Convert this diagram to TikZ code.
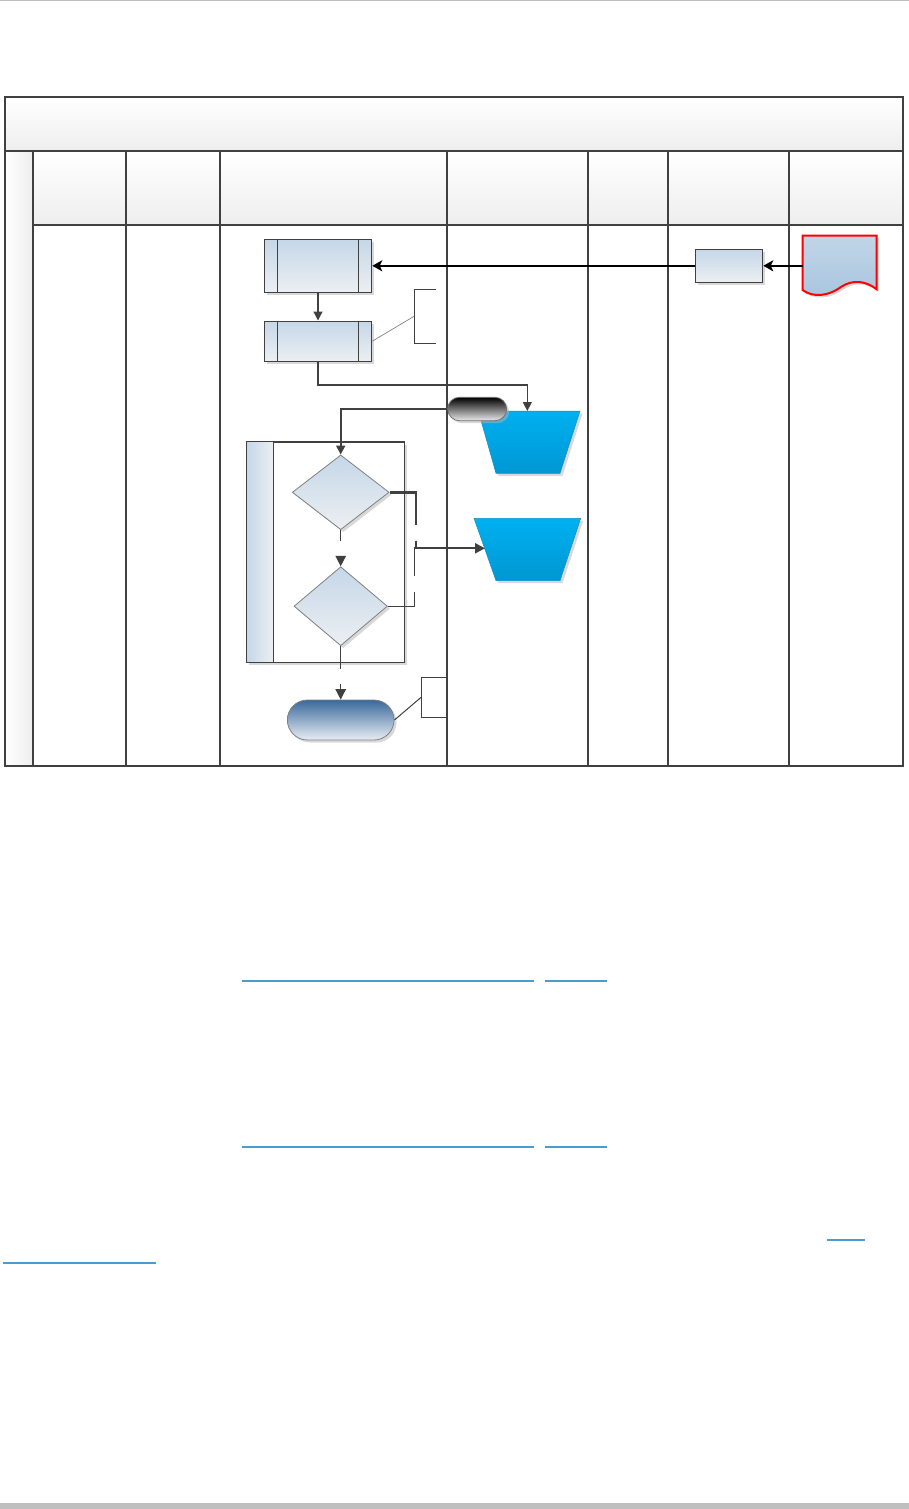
\documentclass[tikz,border=0pt]{standalone}
\usetikzlibrary{shapes.geometric,shapes.misc,arrows.meta,shadows,calc}
\definecolor{gridc}{HTML}{404040}
\definecolor{boxtop}{HTML}{C5D7E8}
\definecolor{boxbot}{HTML}{ECEFF2}
\definecolor{cyantop}{HTML}{00B0F0}
\definecolor{cyanbot}{HTML}{0097D3}
\definecolor{cyanline}{HTML}{1090C8}
\definecolor{linkblue}{HTML}{4A9BD0}
\definecolor{headbot}{HTML}{EEEEEE}
\definecolor{termtop}{HTML}{3A699C}
\definecolor{termbot}{HTML}{E8EDF3}
\definecolor{doctop}{HTML}{C2D5E7}
\definecolor{docbot}{HTML}{A8C5DF}
\definecolor{pagegray}{HTML}{BFBFBF}
\begin{document}
\begin{tikzpicture}[x=1pt,y=-1pt,
  shadowed/.style={drop shadow={shadow xshift=2.5pt,shadow yshift=-2.5pt,fill=black!30,opacity=0.5}},
  gridline/.style={draw=gridc,line width=1.2pt},
  ppbox/.style={rectangle,draw=gridc,line width=1.1pt,top color=boxtop,bottom color=boxbot,inner sep=0pt,shadowed},
  dec/.style={diamond,draw=black!50,line width=0.8pt,top color=boxtop,bottom color=boxbot,inner sep=0pt,shadowed},
  trapshape/.style={draw=cyanline,line width=0.5pt,top color=cyantop,bottom color=cyanbot,shadowed},
  pillbox/.style={rounded rectangle,draw=black!55,line width=0.8pt,top color=black,bottom color=black!8,inner sep=0pt,shadowed},
  termbox/.style={rounded rectangle,draw=black!50,line width=0.8pt,top color=termtop,bottom color=termbot,inner sep=0pt,shadowed},
  annot/.style={rectangle,inner sep=0pt},
  bracket/.style={draw=gridc,line width=1.1pt},
  thickarrow/.style={draw=black,line width=2.6pt,-{Stealth[length=10pt,width=11pt,inset=2.5pt]}},
  conn/.style={draw=gridc,line width=1.3pt,-{Triangle[length=9pt,width=9pt]}},
  gapconn/.style={draw=gridc,line width=1.3pt,-{Triangle[length=10.5pt,width=10.5pt]}},
  linkline/.style={draw=linkblue,line width=2pt}
]
\useasboundingbox (0,0) rectangle (909,1509);
% page decorations
\fill[pagegray] (0,0) rectangle (909,1.5);
\fill[pagegray] (0,1503) rectangle (909,1509);

% swimlane frame
\path[top color=white,bottom color=headbot] (5,97) rectangle (903,151);
\path[top color=white,bottom color=headbot] (33,151) rectangle (903,225);
\path[left color=white,right color=black!7] (5,151) rectangle (33,766);
\draw[gridline] (5,97) rectangle (903,766);
\draw[gridline] (5,151) -- (903,151);
\draw[gridline] (33,225) -- (903,225);
\foreach \x in {33,126,220,447,588,668,789} \draw[gridline] (\x,151) -- (\x,766);

% document
\path[draw=red,line width=2pt,top color=doctop,bottom color=docbot,shadowed]
  (802.7,235.7) -- (876.7,235.7) -- (876.7,289.3)
  .. controls (866,281) and (853,279) .. (841,287)
  .. controls (829,296) and (813,298) .. (802.7,290) -- cycle;
\coordinate (doc) at (802.7,265.8);

% process boxes
\node[ppbox,minimum width=107.4pt,minimum height=53pt] (b1) at (318,265.8) {};
\node[ppbox,minimum width=107.4pt,minimum height=40.3pt] (b2) at (318,341.2) {};
\node[ppbox,minimum width=67.4pt,minimum height=33pt] (b3) at (729,265.8) {};
\foreach \b in {b1,b2}{
  \draw[draw=gridc,line width=1.1pt] ($(\b.north west)+(13.5,0)$) -- ($(\b.south west)+(13.5,0)$);
  \draw[draw=gridc,line width=1.1pt] ($(\b.north east)+(-14,0)$) -- ($(\b.south east)+(-14,0)$);
}

% trapezia (manual inputs)
\path[trapshape] (478.3,411) -- (580,411) -- (560,473.3) -- (496,473.3) -- cycle;
\coordinate (t1) at (527.3,411);
\path[trapshape] (474,518.3) -- (580.7,518.3) -- (560,580.7) -- (496,580.7) -- cycle;
\coordinate (t2) at (485,548.3);

% off-page pill
\node[pillbox,minimum width=59pt,minimum height=23.4pt] (pill) at (477.2,409) {};

% container
\node[rectangle,draw=gridc,line width=1.1pt,fill=white,inner sep=0pt,shadowed,minimum width=157.6pt,minimum height=220pt] (cont) at (325.5,552.3) {};
\path[left color=boxtop,right color=boxbot] (cont.north west) rectangle ($(cont.south west)+(27.6,0)$);
\draw[draw=gridc,line width=1.1pt] ($(cont.north west)+(27.6,0)$) -- ($(cont.south west)+(27.6,0)$);
\draw[draw=gridc,line width=1.1pt] (cont.north west) rectangle (cont.south east);

% decisions
\node[dec,minimum width=96.8pt,minimum height=74.7pt] (d1) at (340.7,492.3) {};
\node[dec,minimum width=93.4pt,minimum height=79pt] (d2) at (340.7,606.2) {};

% terminator
\node[termbox,minimum width=106.7pt,minimum height=40pt] (term) at (340.7,720) {};

% annotations
\node[annot,minimum width=21.7pt,minimum height=54pt] (a1) at (425.15,316.3) {};
\draw[bracket] (a1.north east) -- (a1.north west) -- (a1.south west) -- (a1.south east);
\draw[draw=black!50,line width=0.7pt] (b2.east) -- (a1.west);
\node[annot,minimum width=26pt,minimum height=40pt] (a2) at (434.3,697.3) {};
\draw[bracket] (a2.north east) -- (a2.north west) -- (a2.south west) -- (a2.south east);
\draw[draw=gridc,line width=1pt] (term.east) -- (a2.west);

% connectors
\draw[thickarrow] (doc) -- (b3.east);
\draw[thickarrow] (b3.west) -- (b1.east);
\draw[conn] (b1.south) -- (b2.north);
\draw[conn,line width=1.2pt] (b2.south) -- ++(0,23) -| (t1);
\draw[conn,line width=2pt] (pill.west) -| (d1.north);
\draw[gapconn,dash pattern=on 11pt off 60pt] (d1.south) -- (d2.north);
\draw[gapconn,dash pattern=on 23.3pt off 15pt on 40pt] (d2.south) -- (term.north);
\coordinate (ja) at (416,548.3);
\coordinate (jn) at (414.3,548.3);
\draw[draw=gridc,line width=2.4pt,dash pattern=on 59pt off 15.7pt on 20pt] (d1.east) -| (ja);
\draw[draw=gridc,line width=1.3pt,dash pattern=on 40.7pt off 15.6pt on 40pt] (d2.east) -| (jn);
\draw[conn,line width=2.2pt,-{Triangle[length=10pt,width=10pt]}] (jn) -- (t2);

% hyperlink underlines
\draw[linkline] (242,980.7) -- (534,980.7);
\draw[linkline] (545,980.7) -- (607,980.7);
\draw[linkline] (242,1146.7) -- (534,1146.7);
\draw[linkline] (545,1146.7) -- (607,1146.7);
\draw[linkline] (827,1240) -- (865,1240);
\draw[linkline] (3,1262.7) -- (156,1262.7);
\end{tikzpicture}
\end{document}
